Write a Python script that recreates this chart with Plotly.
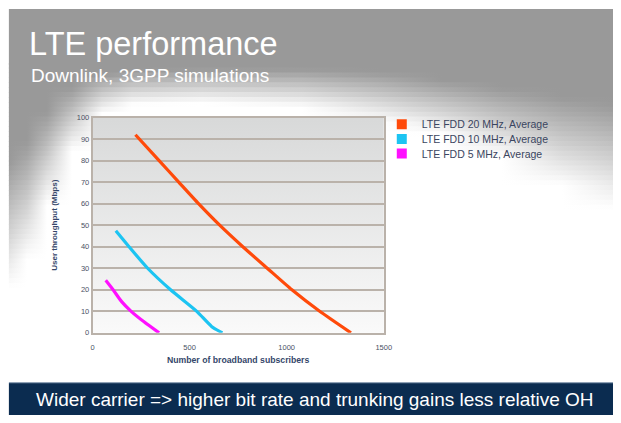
import plotly.graph_objects as go

# ---- data ----
subs_20 = [221, 343, 444, 546, 655, 774, 900, 1027, 1170, 1331]
tput_20 = [92, 80, 70, 60, 50, 40, 30, 20, 10, 0]
subs_10 = [120, 188, 284, 402, 537, 613, 669]
tput_10 = [47.4, 40, 30, 20, 10, 3, 0]
subs_5 = [68, 106, 150, 199, 267, 343]
tput_5 = [24.4, 20, 14.5, 10, 5, 0]
series_names = ["LTE FDD 20 MHz, Average", "LTE FDD 10 MHz, Average", "LTE FDD 5 MHz, Average"]
series_colors = ["#ff4a0a", "#1cc4f2", "#ff10ff"]
x_ticks = [0, 500, 1000, 1500]
y_ticks = list(range(0, 101, 10))

title_text = "LTE performance"
subtitle_text = "Downlink, 3GPP simulations"
banner_text = "Wider carrier => higher bit rate and trunking gains less relative OH"

W, H = 621, 423
FONT = "Liberation Sans"

fig = go.Figure()

# ---- slide background: soft 2-D shading built from horizontal strips ----
def clamp(v):
    return max(0.0, min(1.0, v))

bg_x = [7, 25, 45, 70, 100, 130, 200, 300, 380, 440, 500, 560, 621]
def trans(x):
    # (start y, width) of the gray->white fade at a given x
    pts = [(7, 160, 130), (25, 140, 120), (45, 110, 95), (70, 85, 65), (100, 72, 40),
           (130, 68, 35), (200, 66, 35), (300, 66, 40), (380, 70, 50), (440, 78, 55),
           (500, 86, 70), (560, 95, 90), (621, 104, 105)]
    for (xa, sa, wa), (xb, sb, wb) in zip(pts[:-1], pts[1:]):
        if xa <= x <= xb:
            f = (x - xa) / (xb - xa)
            return sa + f * (sb - sa), wa + f * (wb - wa)
    return pts[-1][1], pts[-1][2]

def level(x, y):
    s, w = trans(x)
    g = 153 + (255 - 153) * clamp((y - s) / w)
    return "rgb(%d,%d,%d)" % (g, g, g)

fig.add_trace(go.Scatter(x=[7, W, W, 7, 7], y=[5, 5, 62, 62, 5], mode="lines", line=dict(width=0),
                         fill="toself", fillcolor="#999999", hoverinfo="skip", showlegend=False,
                         xaxis="x", yaxis="y"))
step = 5
for y0 in range(60, 300, step):
    yc = y0 + step / 2
    cs = [[(x - 7) / (W - 7), level(x, yc)] for x in bg_x]
    fig.add_trace(go.Scatter(
        x=[7, W, W, 7, 7], y=[y0, y0, y0 + step + 0.8, y0 + step + 0.8, y0], mode="lines",
        line=dict(width=0), fill="toself", hoverinfo="skip", showlegend=False,
        fillgradient=dict(type="horizontal", start=7, stop=W, colorscale=cs),
        xaxis="x", yaxis="y"))

# plot-area gradient
fig.add_trace(go.Scatter(
    x=[92, 388, 388, 92, 92], y=[116, 116, 336, 336, 116], mode="lines", line=dict(width=0),
    fill="toself", hoverinfo="skip", showlegend=False,
    fillgradient=dict(type="vertical", start=116, stop=336,
                      colorscale=[[0, "#d8d9d9"], [1, "#fbfbfb"]]),
    xaxis="x", yaxis="y"))

# ---- data lines ----
for xs, ys, name, col in [(subs_20, tput_20, series_names[0], series_colors[0]),
                          (subs_10, tput_10, series_names[1], series_colors[1]),
                          (subs_5, tput_5, series_names[2], series_colors[2])]:
    fig.add_trace(go.Scatter(x=xs, y=ys, mode="lines",
                             line=dict(color=col, width=3.2, shape="spline", smoothing=0.6),
                             name=name, showlegend=False, xaxis="x2", yaxis="y2"))
# legend entries (square swatches), one legend per entry for exact spacing
legend_ids = ["legend", "legend2", "legend3"]
for name, col, lid in zip(series_names, series_colors, legend_ids):
    fig.add_trace(go.Scatter(x=[None], y=[None], mode="markers",
                             marker=dict(symbol="square", size=10, color=col),
                             name=name, legend=lid, xaxis="x2", yaxis="y2"))

leg_font = dict(family=FONT, size=10.5, color="#3a4560")
legend_tops = [108, 123, 138]
leg_layout = {}
for lid, top in zip(legend_ids, legend_tops):
    leg_layout[lid] = dict(x=386 / W, y=(H - top) / H, xanchor="left", yanchor="top",
                           bgcolor="rgba(0,0,0,0)", font=leg_font, itemwidth=30)

grid_col = "#bab2aa"
tick_font = dict(family=FONT, size=7.5, color="#4a5264")
fig.update_layout(
    width=W, height=H, margin=dict(l=0, r=0, t=0, b=0),
    paper_bgcolor="white", plot_bgcolor="rgba(0,0,0,0)",
    xaxis=dict(domain=[0, 1], range=[0, W], visible=False, fixedrange=True),
    yaxis=dict(domain=[0, 1], range=[H, 0], visible=False, fixedrange=True),
    xaxis2=dict(domain=[92 / W, 388 / W], range=[0, 1500], anchor="y2",
                tickvals=x_ticks, ticktext=[str(v) for v in x_ticks], showgrid=False,
                zeroline=False, showline=True, linecolor=grid_col, linewidth=1.5, mirror=True,
                ticks="", tickfont=tick_font, ticklabelstandoff=6,
                title=dict(text="<b>Number of broadband subscribers</b>", standoff=6,
                           font=dict(family=FONT, size=8.7, color="#34466a"))),
    yaxis2=dict(domain=[(H - 336) / H, (H - 116) / H], range=[0, 100], anchor="x2",
                tickvals=y_ticks, showgrid=True, gridcolor=grid_col, gridwidth=1.5,
                zeroline=False, showline=True, linecolor=grid_col, linewidth=1.5, mirror=True,
                ticks="", tickfont=tick_font,
                title=dict(text="<b>User throughput (Mbps)</b>", standoff=18,
                           font=dict(family=FONT, size=8, color="#34466a"))),
    shapes=[
        dict(type="rect", xref="paper", yref="paper", x0=7 / W, x1=1, y0=(H - 420) / H, y1=(H - 387) / H,
             fillcolor="#0b2c50", line=dict(width=0), layer="above"),
        dict(type="line", xref="paper", yref="paper", x0=7 / W, x1=1, y0=(H - 387) / H, y1=(H - 387) / H,
             line=dict(color="#7f95ad", width=1.2), layer="above"),
    ],
    annotations=[
        dict(text=title_text, xref="paper", yref="paper", x=25.5 / W, y=(H - 41) / H,
             xanchor="left", yanchor="middle", showarrow=False,
             font=dict(family=FONT, size=32.5, color="white")),
        dict(text=subtitle_text, xref="paper", yref="paper", x=27 / W, y=(H - 73) / H,
             xanchor="left", yanchor="middle", showarrow=False,
             font=dict(family=FONT, size=19, color="white")),
        dict(text=banner_text, xref="paper", yref="paper", x=318 / W, y=(H - 404) / H,
             xanchor="center", yanchor="middle", showarrow=False,
             font=dict(family=FONT, size=19, color="white")),
    ],
    **leg_layout,
)

fig.write_html(
    "out.html",
    config={"displayModeBar": False},
    post_script="document.body.style.margin='0';document.body.style.overflow='hidden';"
                "document.documentElement.style.overflow='hidden';",
)
